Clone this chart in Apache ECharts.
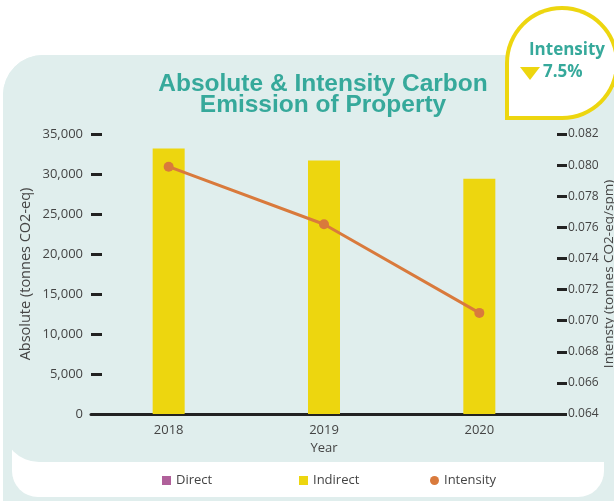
<!DOCTYPE html>
<html>
<head>
<meta charset="utf-8">
<script src="https://cdn.jsdelivr.net/npm/echarts@6/dist/echarts.min.js"></script>
<style>
  html, body { margin: 0; padding: 0; background: #ffffff; }
  #chart { width: 614px; height: 501px; }
</style>
</head>
<body>
<div id="chart"></div>
<script>
// Years on the category axis
var years = ['2018', '2019', '2020'];
// Absolute emissions (tonnes CO2-eq)
var directValues = [0, 0, 0];
var indirectValues = [33200, 31700, 29400];
// Emission intensity (tonnes CO2-eq/spm)
var intensityValues = [0.0799, 0.0762, 0.0705];
// Change in intensity shown in the badge
var intensityChange = '7.5%';

var teal = '#36a99b';
var panel = '#e0eeed';
var yellow = '#edd60f';
var orange = '#d97a3c';
var purple = '#b0609a';
var textGrey = '#444444';
var font = 'Open Sans';

var chart = echarts.init(document.getElementById('chart'), null, { renderer: 'canvas' });

chart.setOption({
  backgroundColor: '#ffffff',
  animation: false,
  title: {
    text: 'Absolute & Intensity Carbon\nEmission of Property',
    left: 318,
    top: 69,
    textAlign: 'center',
    textStyle: {
      fontFamily: 'Liberation Sans',
      fontWeight: 'bold',
      fontSize: 24.5,
      lineHeight: 21,
      color: teal
    }
  },
  graphic: [
    // outer rounded panel
    { type: 'rect', z: -10, shape: { x: 3, y: 55, width: 660, height: 500, r: 40 }, style: { fill: panel } },
    // white legend strip
    { type: 'rect', z: -9, shape: { x: 12, y: 400, width: 592, height: 97, r: [0, 0, 26, 26] }, style: { fill: '#ffffff' } },
    // plot panel above the legend strip
    { type: 'rect', z: -8, shape: { x: 3, y: 55, width: 660, height: 407, r: [40, 40, 36, 36] }, style: { fill: panel } },
    // intensity badge: yellow outline built from a disc plus a square corner
    { type: 'circle', z: 10, shape: { cx: 562, cy: 63, r: 57 }, style: { fill: yellow } },
    { type: 'rect', z: 10, shape: { x: 505, y: 63, width: 57, height: 57 }, style: { fill: yellow } },
    { type: 'circle', z: 11, shape: { cx: 562, cy: 63, r: 53 }, style: { fill: '#ffffff' } },
    { type: 'rect', z: 11, shape: { x: 509, y: 63, width: 53, height: 53 }, style: { fill: '#ffffff' } },
    {
      type: 'text', z: 12, x: 567, y: 50,
      style: { text: 'Intensity', fill: teal, font: 'bold 17px "Open Sans"', align: 'center', verticalAlign: 'middle' }
    },
    {
      type: 'polygon', z: 12,
      shape: { points: [[520, 67], [540, 67], [530, 80]] },
      style: { fill: yellow }
    },
    {
      type: 'text', z: 12, x: 543, y: 72,
      style: { text: intensityChange, fill: teal, font: 'bold 17px "Open Sans"', align: 'left', verticalAlign: 'middle' }
    }
  ],
  legend: [
    {
      data: [{ name: 'Direct', icon: 'rect' }],
      left: 157, top: 469, itemWidth: 9, itemHeight: 9, itemGap: 5,
      textStyle: { fontFamily: font, fontSize: 13, color: textGrey }
    },
    {
      data: [{ name: 'Indirect', icon: 'rect' }],
      left: 294, top: 469, itemWidth: 9, itemHeight: 9,
      textStyle: { fontFamily: font, fontSize: 13, color: textGrey }
    },
    {
      data: [{ name: 'Intensity', icon: 'circle' }],
      left: 425, top: 469, itemWidth: 9, itemHeight: 9,
      textStyle: { fontFamily: font, fontSize: 13, color: textGrey }
    }
  ],
  grid: { left: 91, right: 57, top: 134, bottom: 87, containLabel: false, outerBoundsMode: 'none' },
  xAxis: {
    type: 'category',
    data: years,
    name: 'Year',
    nameLocation: 'middle',
    nameGap: 24,
    nameTextStyle: { fontFamily: font, fontSize: 13, color: textGrey },
    axisLine: { show: true, lineStyle: { color: '#222222', width: 3 } },
    axisTick: { show: false },
    axisLabel: { fontFamily: font, fontSize: 13, color: textGrey, margin: 10 },
    splitLine: { show: false }
  },
  yAxis: [
    {
      type: 'value',
      min: 0, max: 35000, interval: 5000,
      name: 'Absolute (tonnes CO2-eq)',
      nameLocation: 'middle',
      nameRotate: 90,
      nameGap: 58,
      nameMoveOverlap: false,
      nameTextStyle: { fontFamily: font, fontSize: 14.5, color: textGrey },
      axisLine: { show: false },
      axisTick: { show: true, inside: true, length: 11, lineStyle: { color: '#222222', width: 3 } },
      axisLabel: {
        fontFamily: font, fontSize: 13, color: textGrey, margin: 8,
        formatter: function (v) { return v.toLocaleString('en-US'); }
      },
      splitLine: { show: false }
    },
    {
      type: 'value',
      position: 'right',
      min: 0.064, max: 0.082, interval: 0.002,
      name: 'Intensty (tonnes CO2-eq/spm)',
      nameLocation: 'middle',
      nameRotate: 90,
      nameGap: 45,
      nameMoveOverlap: false,
      nameTextStyle: { fontFamily: font, fontSize: 13.5, color: textGrey },
      axisLine: { show: false },
      axisTick: { show: true, inside: false, length: 10, lineStyle: { color: '#222222', width: 3 } },
      axisLabel: {
        fontFamily: font, fontSize: 12, color: textGrey, margin: 11,
        formatter: function (v) { return v.toFixed(3); }
      },
      splitLine: { show: false }
    }
  ],
  series: [
    {
      name: 'Direct', type: 'bar', stack: 'abs', barWidth: 32,
      itemStyle: { color: purple }, data: directValues
    },
    {
      name: 'Indirect', type: 'bar', stack: 'abs', barWidth: 32,
      itemStyle: { color: yellow }, data: indirectValues
    },
    {
      name: 'Intensity', type: 'line', yAxisIndex: 1,
      symbol: 'circle', symbolSize: 10,
      lineStyle: { color: orange, width: 3 },
      itemStyle: { color: orange },
      data: intensityValues, z: 5
    }
  ]
});
</script>
</body>
</html>
